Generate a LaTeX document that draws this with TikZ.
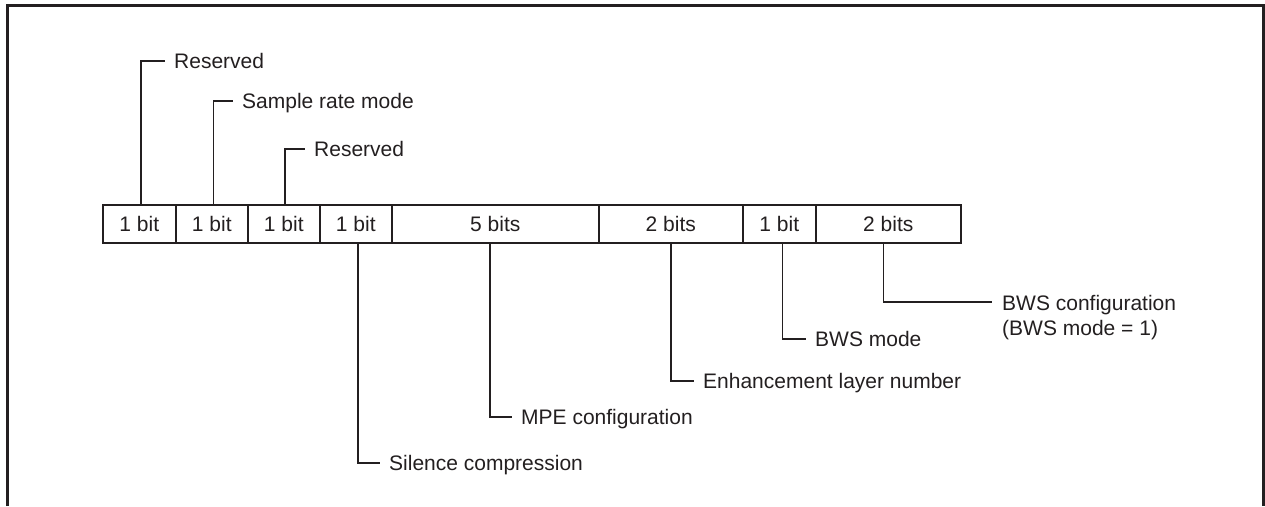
\documentclass[tikz,border=0pt]{standalone}
\usepackage{fontspec}
\setmainfont{Liberation Sans}
\usetikzlibrary{calc}
\definecolor{ink}{HTML}{231F20}
\begin{document}
\begin{tikzpicture}[x=1pt,y=-1pt,
  every node/.style={font=\fontsize{21}{25}\selectfont, text=ink},
  field/.style={draw=ink, line width=1.6pt, minimum height=38pt, inner sep=0pt, anchor=north west},
  lbl/.style={anchor=west, inner xsep=9pt, inner ysep=0pt, text height=15pt, text depth=0pt},
  lead/.style={draw=ink, line width=1.5pt}]
\useasboundingbox (0,0) rectangle (1265,506);
% frame
\draw[ink, line width=3pt] (7,506) -- (7,5) -- (1263,5) -- (1263,506);
% fields
\node[field, minimum width=73]  (b1) at (102,204) {1 bit};
\node[field, minimum width=72]  (b2) at (175,204) {1 bit};
\node[field, minimum width=72]  (b3) at (247,204) {1 bit};
\node[field, minimum width=72]  (b4) at (319,204) {1 bit};
\node[field, minimum width=207] (b5) at (391,204) {5 bits};
\node[field, minimum width=144] (b6) at (598,204) {2 bits};
\node[field, minimum width=73]  (b7) at (742,204) {1 bit};
\node[field, minimum width=145] (b8) at (815,204) {2 bits};
% labels above
\node[lbl] (r1) at (165,61)  {Reserved};
\node[lbl] (sr) at (233,101) {Sample rate mode};
\node[lbl] (r2) at (305,149) {Reserved};
% labels below
\node[lbl] (sc)  at (380,463) {Silence compression};
\node[lbl] (mpe) at (512,417) {MPE configuration};
\node[lbl] (enh) at (694,381) {Enhancement layer number};
\node[lbl] (bm)  at (806,339) {BWS mode};
\node[anchor=north west, align=left, inner xsep=10pt, inner ysep=0pt] (cfg) at (992,295) {BWS configuration\\(BWS mode = 1)};
% leaders
\draw[lead] ([xshift=1.5pt]b1.north) |- (r1.west);
\draw[lead] ([xshift=1.7pt]b2.north) |- (sr.west);
\draw[lead] ([xshift=1pt]b3.north) |- (r2.west);
\draw[lead] ([xshift=2pt]b4.south) |- (sc.west);
\draw[lead] ([xshift=-5.5pt]b5.south) |- (mpe.west);
\draw[lead] (b6.south) |- (enh.west);
\draw[lead] ([xshift=3pt]b7.south) |- (bm.west);
\draw[lead] ([xshift=-5pt]b8.south) |- ($(cfg.north west)+(0,7)$);
\end{tikzpicture}
\end{document}
